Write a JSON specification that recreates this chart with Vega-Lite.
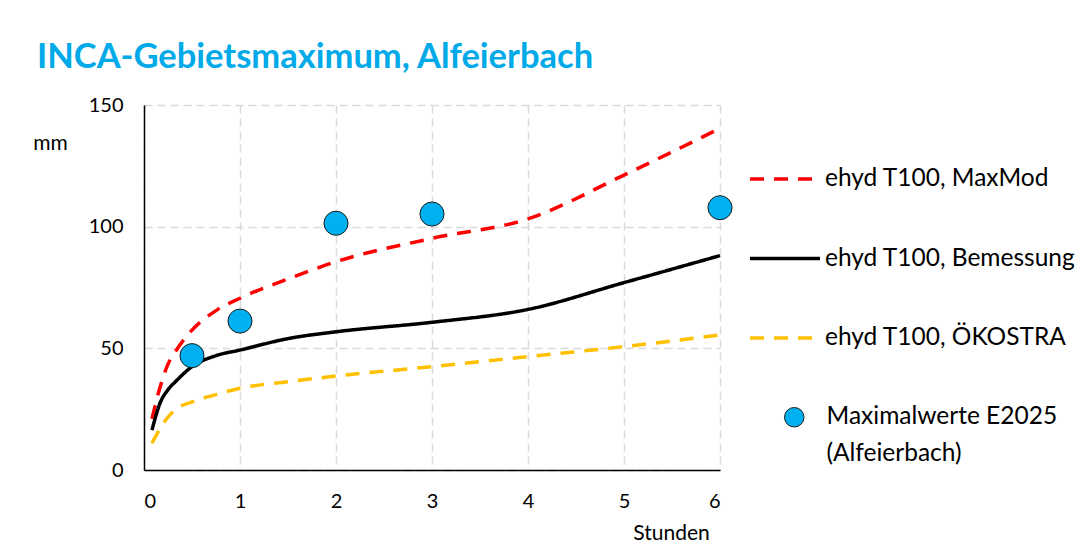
{
  "$schema": "https://vega.github.io/schema/vega-lite/v6.json",
  "width": 576,
  "height": 365,
  "autosize": "none",
  "padding": {"left": 144, "top": 105, "right": 370, "bottom": 75},
  "background": "white",
  "title": {
    "text": "INCA-Gebietsmaximum, Alfeierbach",
    "anchor": "start",
    "frame": "group",
    "font": "Lato",
    "fontSize": 34.5,
    "fontWeight": "bold",
    "color": "#00A9E8",
    "baseline": "alphabetic",
    "dx": -107,
    "offset": -7
  },
  "datasets": {
    "lines": [
      {"series": "ehyd T100, MaxMod", "h": 0.083, "mm": 21},
      {"series": "ehyd T100, MaxMod", "h": 0.167, "mm": 34},
      {"series": "ehyd T100, MaxMod", "h": 0.25, "mm": 43.5},
      {"series": "ehyd T100, MaxMod", "h": 0.333, "mm": 49},
      {"series": "ehyd T100, MaxMod", "h": 0.5, "mm": 57.5},
      {"series": "ehyd T100, MaxMod", "h": 0.75, "mm": 65.5},
      {"series": "ehyd T100, MaxMod", "h": 1, "mm": 70.6},
      {"series": "ehyd T100, MaxMod", "h": 1.5, "mm": 78.5},
      {"series": "ehyd T100, MaxMod", "h": 2, "mm": 85.6},
      {"series": "ehyd T100, MaxMod", "h": 3, "mm": 95.2},
      {"series": "ehyd T100, MaxMod", "h": 4, "mm": 103.2},
      {"series": "ehyd T100, MaxMod", "h": 5, "mm": 121.2},
      {"series": "ehyd T100, MaxMod", "h": 6, "mm": 140.4},
      {"series": "ehyd T100, Bemessung", "h": 0.083, "mm": 16.4},
      {"series": "ehyd T100, Bemessung", "h": 0.167, "mm": 27.5},
      {"series": "ehyd T100, Bemessung", "h": 0.25, "mm": 33},
      {"series": "ehyd T100, Bemessung", "h": 0.333, "mm": 36.5},
      {"series": "ehyd T100, Bemessung", "h": 0.5, "mm": 42.5},
      {"series": "ehyd T100, Bemessung", "h": 0.75, "mm": 47},
      {"series": "ehyd T100, Bemessung", "h": 1, "mm": 49.3},
      {"series": "ehyd T100, Bemessung", "h": 1.5, "mm": 54},
      {"series": "ehyd T100, Bemessung", "h": 2, "mm": 56.8},
      {"series": "ehyd T100, Bemessung", "h": 3, "mm": 60.7},
      {"series": "ehyd T100, Bemessung", "h": 4, "mm": 66},
      {"series": "ehyd T100, Bemessung", "h": 5, "mm": 77},
      {"series": "ehyd T100, Bemessung", "h": 6, "mm": 88.1},
      {"series": "ehyd T100, ÖKOSTRA", "h": 0.083, "mm": 11},
      {"series": "ehyd T100, ÖKOSTRA", "h": 0.167, "mm": 17},
      {"series": "ehyd T100, ÖKOSTRA", "h": 0.25, "mm": 21.7},
      {"series": "ehyd T100, ÖKOSTRA", "h": 0.333, "mm": 25},
      {"series": "ehyd T100, ÖKOSTRA", "h": 0.5, "mm": 28},
      {"series": "ehyd T100, ÖKOSTRA", "h": 0.75, "mm": 31},
      {"series": "ehyd T100, ÖKOSTRA", "h": 1, "mm": 33.6},
      {"series": "ehyd T100, ÖKOSTRA", "h": 1.5, "mm": 36.3},
      {"series": "ehyd T100, ÖKOSTRA", "h": 2, "mm": 38.6},
      {"series": "ehyd T100, ÖKOSTRA", "h": 3, "mm": 42.5},
      {"series": "ehyd T100, ÖKOSTRA", "h": 4, "mm": 46.6},
      {"series": "ehyd T100, ÖKOSTRA", "h": 5, "mm": 50.7},
      {"series": "ehyd T100, ÖKOSTRA", "h": 6, "mm": 55.5}
    ],
    "points": [
      {"label": "Maximalwerte E2025", "h": 0.5, "mm": 47},
      {"label": "Maximalwerte E2025", "h": 1, "mm": 61.2},
      {"label": "Maximalwerte E2025", "h": 2, "mm": 101.4},
      {"label": "Maximalwerte E2025", "h": 3, "mm": 105.2},
      {"label": "Maximalwerte E2025", "h": 6, "mm": 107.8}
    ]
  },
  "layer": [
    {
      "data": {"name": "lines"},
      "mark": {"type": "line", "interpolate": "monotone", "strokeWidth": 3.5},
      "encoding": {
        "x": {
          "field": "h", "type": "quantitative",
          "scale": {"domain": [0, 6], "nice": false},
          "axis": {
            "title": "Stunden", "values": [0, 1, 2, 3, 4, 5, 6], "format": "d",
            "titleX": 527, "titleY": 63, "titleAlign": "center", "titleBaseline": "middle",
            "labelPadding": 21
          }
        },
        "y": {
          "field": "mm", "type": "quantitative",
          "scale": {"domain": [0, 150], "nice": false},
          "axis": {
            "title": "mm", "values": [0, 50, 100, 150], "format": "d",
            "titleX": -94, "titleY": 38, "titleAngle": 0, "titleAlign": "center", "titleBaseline": "middle",
            "labelPadding": 21
          }
        },
        "color": {
          "field": "series", "type": "nominal",
          "scale": {
            "domain": ["ehyd T100, MaxMod", "ehyd T100, Bemessung", "ehyd T100, ÖKOSTRA"],
            "range": ["#FF0000", "#000000", "#FFC000"]
          },
          "legend": {
            "title": null, "orient": "none", "legendX": 604, "legendY": 37,
            "symbolType": "stroke", "symbolSize": 4900, "symbolStrokeWidth": 3.5,
            "labelFont": "Lato", "labelFontSize": 24.5, "labelColor": "#000000",
            "labelOffset": 3, "rowPadding": 30.5, "padding": 0, "labelLimit": 400
          }
        },
        "strokeDash": {
          "field": "series", "type": "nominal",
          "scale": {
            "domain": ["ehyd T100, MaxMod", "ehyd T100, Bemessung", "ehyd T100, ÖKOSTRA"],
            "range": [[14, 10], [1, 0], [14, 10]]
          },
          "legend": {
            "title": null, "orient": "none", "legendX": 604, "legendY": 37,
            "symbolType": "stroke", "symbolSize": 4900, "symbolStrokeWidth": 3.5,
            "labelFont": "Lato", "labelFontSize": 24.5, "labelColor": "#000000",
            "labelOffset": 3, "rowPadding": 30.5, "padding": 0, "labelLimit": 400
          }
        }
      }
    },
    {
      "data": {"name": "points"},
      "mark": {"type": "circle", "size": 580, "opacity": 1, "stroke": "#1a1a1a", "strokeWidth": 1},
      "encoding": {
        "x": {"field": "h", "type": "quantitative"},
        "y": {"field": "mm", "type": "quantitative"},
        "fill": {
          "field": "label", "type": "nominal",
          "scale": {"domain": ["Maximalwerte E2025"], "range": ["#00B0F0"]},
          "legend": {
            "title": null, "orient": "none", "legendX": 638, "legendY": 300,
            "symbolType": "circle", "symbolSize": 380, "symbolStrokeColor": "#1a1a1a", "symbolStrokeWidth": 1,
            "symbolFillColor": "#00B0F0", "symbolOpacity": 1,
            "labelFont": "Lato", "labelFontSize": 24.5, "labelColor": "#000000",
            "labelOffset": 20, "padding": 0, "labelLimit": 400,
            "labelBaseline": "middle",
            "labelExpr": "['Maximalwerte E2025', '(Alfeierbach)']"
          }
        }
      }
    }
  ],
  "config": {
    "font": "Lato",
    "view": {"stroke": null},
    "style": {"guide-label": {"lineHeight": 37}},
    "axis": {
      "labelFont": "Lato", "labelFontSize": 20, "labelColor": "#000000",
      "titleFont": "Lato", "titleFontSize": 21, "titleFontWeight": "normal", "titleColor": "#000000",
      "ticks": false,
      "domainColor": "#000000", "domainWidth": 1.5,
      "grid": true, "gridColor": "#D9D9D9", "gridDash": [8, 5], "gridWidth": 1.5
    }
  }
}
